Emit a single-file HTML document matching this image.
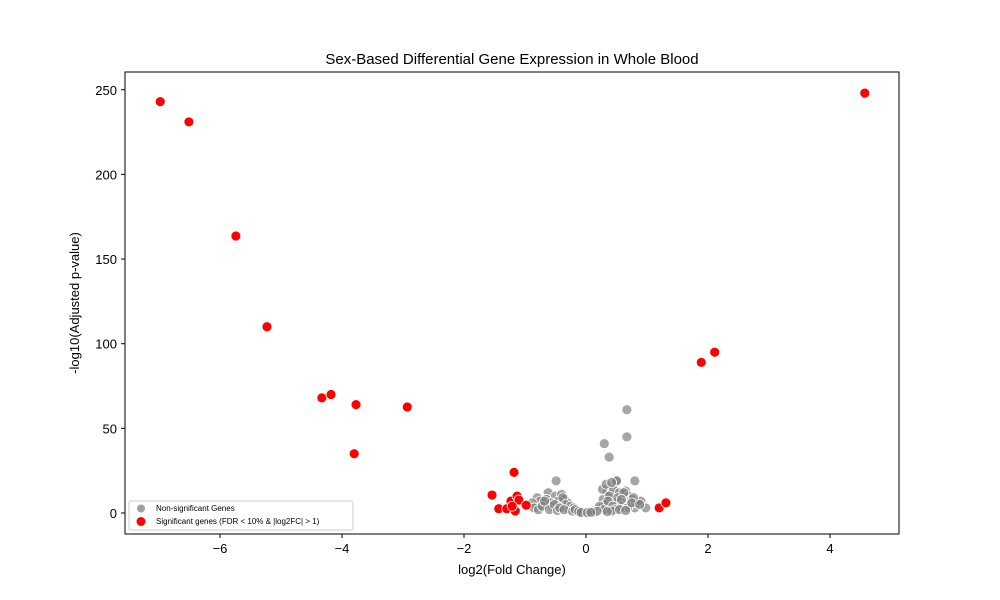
<!DOCTYPE html>
<html><head><meta charset="utf-8"><style>
body{margin:0;background:#fff;}
svg{display:block;font-family:"Liberation Sans","DejaVu Sans",sans-serif;}
</style></head><body>
<svg id="chart" width="1000" height="600">
<rect x="0" y="0" width="1000" height="600" fill="#fff"/>
<text x="512" y="64" text-anchor="middle" font-size="15">Sex-Based Differential Gene Expression in Whole Blood</text>
<g id="marks"></g>
<rect x="125" y="72" width="774" height="462" fill="none" stroke="#000" stroke-width="1"/>
<g id="axes"></g>
<text x="512" y="574" text-anchor="middle" font-size="13">log2(Fold Change)</text>
<text transform="translate(79,303) rotate(-90)" text-anchor="middle" font-size="13">-log10(Adjusted p-value)</text>
<g>
<rect x="129" y="501" width="224" height="29" rx="2" fill="#fff" fill-opacity="0.8" stroke="#ccc"/>
<circle cx="141" cy="508.5" r="4" fill="#a0a0a0"/>
<text x="156" y="511" font-size="8">Non-significant Genes</text>
<circle cx="141" cy="521.5" r="4.5" fill="#ff0000"/>
<text x="156" y="524" font-size="8">Significant genes (FDR &lt; 10% &amp; |log2FC| &gt; 1)</text>
</g>
</svg>
<script>
const xTicks=[-6,-4,-2,0,2,4];
const yTicks=[0,50,100,150,200,250];
const grayX=[0.67,0.67,0.30,0.38,-0.49,0.51,0.80,-0.62,-0.5,-0.4,-0.35,-0.3,-0.8,-0.75,-0.7,-0.65,-0.58,-0.55,-0.45,-0.42,-0.38,-0.33,-0.28,-0.25,-0.2,-0.15,-0.1,-0.88,-0.85,-0.78,-0.72,-0.68,-0.6,-0.52,-0.47,-0.43,-0.36,-0.22,-0.18,-0.05,0.0,0.05,0.1,0.15,0.2,0.25,0.28,0.32,0.35,0.4,0.45,0.5,0.55,0.6,0.65,0.7,0.75,0.8,0.85,0.9,0.98,0.22,0.27,0.33,0.38,0.42,0.47,0.52,0.57,0.62,0.72,0.78,0.3,0.36,0.44,0.48,0.58,0.68,0.75,0.88,0.12,0.18,-0.12,-0.08,0.02,0.08,0.42,0.55,0.65,0.35];
const grayY=[61,45,41,33,19,19,19,12,10,11,8,6,9,7,5,8,6,4,7,3,9,5,2,4,3,1.5,1,6,3,2,4,7,2,5,1.5,3,2,1,2,0.5,0.3,0.8,1,1.5,2,3,8,5,13,11,14,19,12,6,13,10,8,3,6,7,3,4,14,17,10,18,6,9,4,12,5,9,2,7,4,2,8,3,6,5,0.5,1,0.8,0.3,0.2,0.4,1.2,2,1.5,0.8];
const sigX=[-6.98,-6.51,-5.74,-5.23,-4.33,-4.18,-3.77,-3.80,-2.93,1.89,2.11,4.57,-1.18,-1.54,-1.43,-1.30,-1.23,-1.13,-1.10,-1.16,-0.98,-1.21,1.20,1.31];
const sigY=[243,231,163.6,110,68,70,64,35,62.6,89,95,248,24,10.6,2.5,2.5,7,10,7.7,1.2,4.6,4,3,6];
const NS="http://www.w3.org/2000/svg";
const xs=v=>586+v*61;
const ys=v=>513-v*1.693;
const marks=document.getElementById('marks'),axes=document.getElementById('axes');
function mk(t,a){const e=document.createElementNS(NS,t);for(const k in a)e.setAttribute(k,a[k]);return e;}
grayX.forEach((x,i)=>{const c=mk('circle',{cx:xs(x),cy:ys(grayY[i]),r:5,fill:'#808080','fill-opacity':0.7,stroke:'#fff','stroke-width':0.8});


marks.appendChild(c);});
sigX.forEach((x,i)=>{const c=mk('circle',{cx:xs(x),cy:ys(sigY[i]),r:5,fill:'#ff0000',stroke:'#fff','stroke-width':0.8});


marks.appendChild(c);});
xTicks.forEach(t=>{const x=xs(t);
const l=mk('line',{x1:x,x2:x,y1:534,y2:538,stroke:'#000'});


axes.appendChild(l);
const tx=mk('text',{x:x,y:553,'text-anchor':'middle','font-size':13});tx.textContent=(t<0?'\u2212'+(-t):t);


axes.appendChild(tx);});
yTicks.forEach(t=>{const y=ys(t);
const l=mk('line',{x1:121,x2:125,y1:y,y2:y,stroke:'#000'});


axes.appendChild(l);
const tx=mk('text',{x:117,y:y+5,'text-anchor':'end','font-size':13});tx.textContent=t;


axes.appendChild(tx);});
</script>
</body></html>
